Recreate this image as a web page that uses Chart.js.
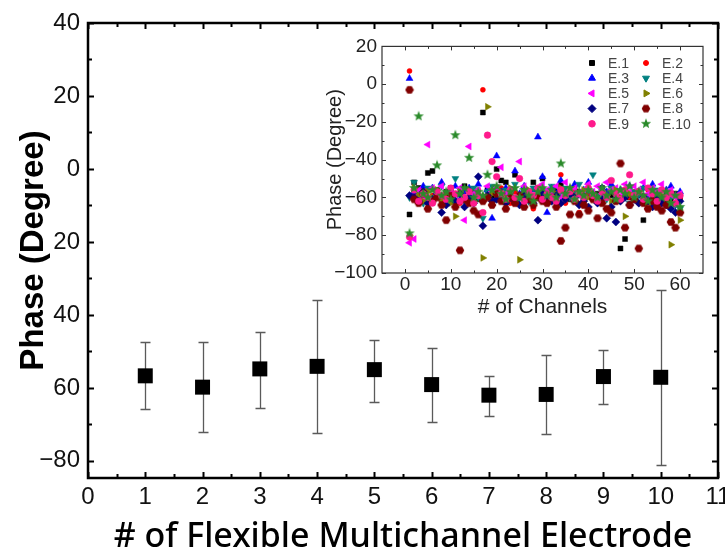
<!DOCTYPE html>
<html><head><meta charset="utf-8">
<script src="https://cdn.jsdelivr.net/npm/chart.js@4.4.1/dist/chart.umd.min.js"></script>
<style>
html,body{margin:0;padding:0;background:#fff;overflow:hidden;width:725px;height:550px;}
#wrap{position:relative;width:725px;height:550px;overflow:hidden;background:#fff;}
#main{position:absolute;left:0;top:0;width:745px;height:550px;}
#inset{position:absolute;left:315px;top:30px;width:400px;height:295px;}
</style></head><body>
<div id="wrap"><canvas id="main" width="745" height="550"></canvas><canvas id="inset" width="400" height="295"></canvas></div>
<script>
// ---------- main chart data ----------
const electrodes = [1,2,3,4,5,6,7,8,9,10];
const phaseMean  = [-56.7,-59.8,-54.8,-54.1,-55.0,-59.1,-62.0,-61.8,-56.9,-57.1];
const phaseUpper = [-47.3,-47.3,-44.6,-35.8,-46.8,-49.0,-56.7,-51.0,-49.7,-33.2];
const phaseLower = [-65.9,-72.0,-65.6,-72.5,-63.8,-69.4,-67.6,-72.7,-64.3,-81.2];
const xTicks = [0,1,2,3,4,5,6,7,8,9,10,11];
const xMinorTicks = [0.5,1.5,2.5,3.5,4.5,5.5,6.5,7.5,8.5,9.5,10.5];
const yTickValues = [-80,-60,-40,-20,0,20,40];
const yTickLabels = ['\u221280','60','40','20','0','20','40'];
const yMinorTicks = [-70,-50,-30,-10,10,30];

// ---------- inset data ----------
const channels = [1,2,3,4,5,6,7,8,9,10,11,12,13,14,15,16,17,18,19,20,21,22,23,24,25,26,27,28,29,30,31,32,33,34,35,36,37,38,39,40,41,42,43,44,45,46,47,48,49,50,51,52,53,54,55,56,57,58,59,60];
const seriesNames = ['E.1','E.2','E.3','E.4','E.5','E.6','E.7','E.8','E.9','E.10'];
const E1 = [-69,-52,-55,-58,-47,-46,-56,-60,-57,-55,-62,-58,-54,-60,-57,-61,-15,-56,-59,-45,-51,-52,-57,-48,-60,-56,-58,-52,-55,-50,-57,-60,-56,-53,-58,-61,-55,-57,-59,-56,-60,-58,-55,-57,-59,-62,-87,-82,-60,-58,-57,-72,-60,-56,-59,-61,-58,-62,-58,-60];
const E2 = [7,-58,-61,-56,-63,-59,-57,-62,-60,-55,-58,-63,-57,-61,-59,-56,-3,-60,-62,-58,-55,-60,-63,-57,-59,-61,-58,-66,-56,-60,-62,-57,-59,-48,-63,-60,-56,-68,-61,-58,-60,-63,-57,-59,-55,-61,-62,-58,-60,-57,-63,-59,-56,-61,-58,-60,-62,-57,-64,-61];
const E3 = [3,-57,-60,-54,-62,-55,-58,-52,-59,-56,-54,-61,-57,-55,-59,-53,-60,-56,-71,-38,-57,-55,-60,-46,-58,-54,-61,-56,-28,-49,-68,-55,-58,-51,-60,-57,-53,-59,-56,-52,-58,-61,-55,-57,-53,-60,-56,-58,-54,-59,-57,-55,-60,-53,-58,-62,-56,-54,-59,-57];
const E4 = [-60,-52,-58,-63,-55,-60,-57,-54,-61,-59,-50,-56,-62,-58,-55,-60,-71,-57,-54,-59,-61,-56,-58,-53,-60,-57,-62,-55,-59,-56,-58,-54,-61,-57,-55,-60,-58,-53,-62,-56,-48,-59,-57,-61,-55,-58,-60,-56,-63,-57,-59,-55,-61,-58,-56,-62,-57,-60,-64,-66];
const E5 = [-84,-82,-56,-60,-32,-55,-58,-54,-61,-57,-59,-55,-72,-33,-58,-56,-60,-54,-57,-55,-44,-58,-56,-60,-41,-54,-57,-59,-55,-53,-56,-58,-54,-60,-52,-57,-55,-59,-56,-53,-57,-54,-58,-52,-56,-55,-59,-53,-57,-54,-56,-52,-58,-55,-57,-53,-59,-56,-60,-58];
const E6 = [-80,-55,-59,-62,-57,-60,-56,-61,-58,-63,-70,-57,-60,-56,-62,-59,-92,-12,-58,-61,-57,-60,-55,-62,-93,-58,-56,-61,-59,-57,-60,-62,-58,-55,-61,-57,-59,-63,-56,-60,-58,-61,-57,-59,-62,-56,-60,-70,-58,-61,-57,-60,-63,-58,-61,-59,-62,-85,-76,-72];
const E7 = [-59,-60,-62,-57,-63,-61,-58,-68,-64,-60,-62,-58,-65,-60,-63,-49,-75,-59,-62,-61,-58,-63,-60,-62,-64,-59,-61,-63,-72,-58,-60,-62,-59,-63,-61,-58,-60,-64,-62,-65,-59,-63,-61,-71,-65,-73,-62,-60,-64,-61,-63,-60,-62,-65,-61,-63,-64,-66,-68,-62];
const E8 = [-3,-61,-63,-58,-66,-62,-60,-64,-72,-59,-65,-88,-61,-63,-67,-69,-62,-60,-64,-58,-62,-66,-60,-63,-59,-65,-61,-64,-60,-62,-63,-60,-65,-83,-76,-69,-62,-69,-64,-67,-61,-71,-63,-66,-68,-62,-42,-76,-64,-61,-87,-63,-66,-62,-65,-67,-64,-73,-76,-68];
const E9 = [-81,-56,-62,-58,-60,-63,-57,-59,-61,-55,-58,-62,-60,-57,-63,-59,-68,-27,-41,-49,-58,-61,-56,-60,-50,-62,-57,-59,-55,-61,-58,-60,-62,-56,-59,-57,-61,-58,-60,-55,-59,-62,-57,-60,-51,-58,-61,-56,-48,-59,-57,-61,-55,-58,-62,-56,-60,-58,-63,-59];
const E10 = [-79,-55,-17,-58,-60,-56,-43,-59,-57,-61,-27,-58,-55,-39,-60,-57,-59,-48,-56,-54,-58,-61,-57,-55,-60,-56,-59,-62,-57,-55,-59,-56,-60,-42,-58,-55,-61,-57,-59,-56,-58,-60,-55,-59,-57,-61,-56,-58,-54,-60,-57,-59,-62,-56,-58,-60,-57,-63,-59,-65];
const seriesValues = [E1,E2,E3,E4,E5,E6,E7,E8,E9,E10];
const insetXTicks = [0,10,20,30,40,50,60];
const insetXMinor = [5,15,25,35,45,55];
const insetYTicks = [-100,-80,-60,-40,-20,0,20];
const insetYMinor = [-90,-70,-50,-30,-10,10];

// ---------- styles ----------
const FONT = "'Liberation Sans', Arial, sans-serif";
function shapeCanvas(color, size, pts) {
  const c = document.createElement('canvas'); c.width = size; c.height = size;
  const g = c.getContext('2d'); g.fillStyle = color; g.beginPath();
  pts.forEach((p,i)=>{ const x = size/2 + p[0], y = size/2 + p[1]; if(i) g.lineTo(x,y); else g.moveTo(x,y); });
  g.closePath(); g.fill(); return c;
}
function polyPts(n, r, rot) { const a=[]; for(let i=0;i<n;i++){const t=rot+i*2*Math.PI/n; a.push([r*Math.cos(t), r*Math.sin(t)]);} return a; }
function starPts(ro, ri) { const a=[]; for(let i=0;i<10;i++){const t=-Math.PI/2+i*Math.PI/5; const r=i%2?ri:ro; a.push([r*Math.cos(t), r*Math.sin(t)]);} return a; }
const hexImg = shapeCanvas('#800000', 10, polyPts(6, 4.3, 0));
const starImg = shapeCanvas('#2a8a2a', 12, starPts(5.4, 2.3));
const seriesStyle = [
  {color:'#000000', pointStyle:'rect', radius:3.5, rotation:0},
  {color:'#ff0000', pointStyle:'circle', radius:2.5, rotation:0},
  {color:'#0000ff', pointStyle:'triangle', radius:4, rotation:0},
  {color:'#008080', pointStyle:'triangle', radius:4, rotation:180},
  {color:'#ff00ff', pointStyle:'triangle', radius:4, rotation:-90},
  {color:'#808000', pointStyle:'triangle', radius:4, rotation:90},
  {color:'#000080', pointStyle:'rectRot', radius:4, rotation:0},
  {color:'#800000', pointStyle:hexImg, radius:4, rotation:0},
  {color:'#ff1a8c', pointStyle:'circle', radius:3.3, rotation:0},
  {color:'#2a8a2a', pointStyle:starImg, radius:4, rotation:0}
];

// ---------- plugins ----------
function inwardTicks(id, spec) {
  return { id, afterDraw(chart) {
    const {ctx, chartArea:a, scales} = chart;
    ctx.save(); ctx.strokeStyle = spec.color; ctx.lineWidth = spec.tickWidth; ctx.beginPath();
    const xs = [[spec.xMajor, spec.majLen],[spec.xMinor, spec.minLen]];
    xs.forEach(([vals,len])=>vals.forEach(v=>{ const px = Math.round(scales.x.getPixelForValue(v))+0.5;
      ctx.moveTo(px,a.bottom); ctx.lineTo(px,a.bottom-len); ctx.moveTo(px,a.top); ctx.lineTo(px,a.top+len); }));
    const ys = [[spec.yMajor, spec.majLen],[spec.yMinor, spec.minLen]];
    ys.forEach(([vals,len])=>vals.forEach(v=>{ const py = Math.round(scales.y.getPixelForValue(v))+0.5;
      ctx.moveTo(a.left,py); ctx.lineTo(a.left+len,py); ctx.moveTo(a.right,py); ctx.lineTo(a.right-len,py); }));
    ctx.stroke();
    ctx.lineWidth = spec.boxWidth;
    ctx.strokeRect(a.left, a.top, a.right-a.left, a.bottom-a.top);
    ctx.restore();
  }};
}
const errorBars = { id:'errorBars', beforeDatasetsDraw(chart) {
  const {ctx, scales:{x,y}} = chart;
  ctx.save(); ctx.strokeStyle = '#5a5a5a'; ctx.lineWidth = 1.3; ctx.beginPath();
  electrodes.forEach((e,i)=>{
    const px = Math.round(x.getPixelForValue(e))+0.5;
    const yt = Math.round(y.getPixelForValue(phaseUpper[i]))+0.5, yb = Math.round(y.getPixelForValue(phaseLower[i]))+0.5;
    ctx.moveTo(px,yt); ctx.lineTo(px,yb);
    ctx.moveTo(px-5,yt); ctx.lineTo(px+5,yt);
    ctx.moveTo(px-5,yb); ctx.lineTo(px+5,yb);
  });
  ctx.stroke(); ctx.restore();
}};

// ---------- main chart ----------
new Chart(document.getElementById('main'), {
  type:'scatter',
  data:{ datasets:[{ data: electrodes.map((e,i)=>({x:e, y:phaseMean[i]})), pointStyle:'rect', pointRadius:10.6, pointHoverRadius:10.6,
    backgroundColor:'#000', borderColor:'#000', borderWidth:0 }] },
  options:{
    responsive:false, animation:false, devicePixelRatio:1,
    layout:{ padding:{ top:23, right:27, left:0, bottom:0 } },
    plugins:{ legend:{display:false}, tooltip:{enabled:false} },
    scales:{
      x:{ type:'linear', min:0, max:11,
        afterBuildTicks: s => { s.ticks = xTicks.map(v=>({value:v})); },
        afterFit: s => { s.height = 72; },
        ticks:{ font:{family:FONT, size:24}, color:'#111', padding:5, maxRotation:0, autoSkip:false },
        grid:{ display:false, drawTicks:false }, border:{display:false},
        title:{ display:true, text:'# of Flexible Multichannel Electrode', color:'#000',
          font:{family:"'Noto Sans', sans-serif", size:34, weight:'500', lineHeight:0.77}, padding:{top:0,bottom:0} } },
      y:{ type:'linear', min:-84.7, max:40,
        afterBuildTicks: s => { s.ticks = yTickValues.map(v=>({value:v})); },
        afterFit: s => { s.width = 88; },
        ticks:{ font:{family:FONT, size:24}, color:'#111', padding:8,
          callback: v => yTickLabels[yTickValues.indexOf(v)] },
        grid:{ display:false, drawTicks:false }, border:{display:false},
        title:{ display:true, text:'Phase (Degree)', color:'#000',
          font:{family:FONT, size:33, weight:'bold', lineHeight:1.2}, padding:{top:14,bottom:0} } }
    }
  },
  plugins:[errorBars, inwardTicks('mainTicks', {color:'#000', tickWidth:2, boxWidth:2.5, majLen:6, minLen:4,
    xMajor:xTicks, xMinor:xMinorTicks, yMajor:yTickValues, yMinor:yMinorTicks})]
});

// ---------- inset chart ----------
const insetLegend = { id:'insetLegend', afterDraw(chart) {
  const ctx = chart.ctx; ctx.save();
  ctx.font = "14px " + FONT; ctx.textBaseline = 'middle'; ctx.textAlign = 'left';
  chart.data.datasets.forEach((ds,i)=>{
    const col = i%2, row = Math.floor(i/2);
    const mx = 277 + col*54, my = 33 + row*15.2;
    const st = seriesStyle[i];
    ctx.fillStyle = st.color; ctx.strokeStyle = st.color;
    Chart.helpers.drawPoint(ctx, {pointStyle:st.pointStyle, radius:st.radius, rotation:st.rotation, borderWidth:0.5}, mx, my);
    ctx.fillStyle = '#444';
    ctx.fillText(ds.label, mx+16, my+1);
  });
  ctx.restore();
}};

new Chart(document.getElementById('inset'), {
  type:'scatter',
  data:{ datasets: seriesValues.map((vals,i)=>({
    label: seriesNames[i],
    data: channels.map((c,j)=>({x:c, y:vals[j]})),
    pointStyle: seriesStyle[i].pointStyle, pointRadius: seriesStyle[i].radius, pointHoverRadius: seriesStyle[i].radius,
    rotation: seriesStyle[i].rotation,
    backgroundColor: seriesStyle[i].color, borderColor: seriesStyle[i].color, borderWidth:0.5,
    order: 10 - i
  })) },
  options:{
    responsive:false, animation:false, devicePixelRatio:1,
    layout:{ padding:{ top:13, right:12, left:0, bottom:0 } },
    plugins:{ legend:{display:false}, tooltip:{enabled:false} },
    scales:{
      x:{ type:'linear', min:-5, max:65,
        afterBuildTicks: s => { s.ticks = insetXTicks.map(v=>({value:v})); },
        afterFit: s => { s.height = 52; },
        ticks:{ font:{family:FONT, size:19}, color:'#222', padding:0, maxRotation:0, autoSkip:false },
        grid:{ display:false, drawTicks:false }, border:{display:false},
        title:{ display:true, text:'# of Channels', color:'#222',
          font:{family:FONT, size:21, lineHeight:1.2}, padding:{top:0,bottom:5} } },
      y:{ type:'linear', min:-100, max:20,
        afterBuildTicks: s => { s.ticks = insetYTicks.map(v=>({value:v})); },
        afterFit: s => { s.width = 67; },
        ticks:{ font:{family:FONT, size:19}, color:'#222', padding:5,
          callback: v => (v < 0 ? '\u2212' + Math.abs(v) : String(v)) },
        grid:{ display:false, drawTicks:false }, border:{display:false},
        title:{ display:true, text:'Phase (Degree)', color:'#222',
          font:{family:FONT, size:20, lineHeight:1.2}, padding:{top:8,bottom:0} } }
    }
  },
  plugins:[{ id:'whiteBg', beforeDraw(chart){ const {ctx, chartArea:a} = chart; ctx.save(); ctx.fillStyle='#fff'; ctx.fillRect(a.left,a.top,a.right-a.left,a.bottom-a.top); ctx.restore(); } },
    inwardTicks('insetTicks', {color:'#333', tickWidth:1, boxWidth:1.2, majLen:4, minLen:2.5,
      xMajor:insetXTicks, xMinor:insetXMinor, yMajor:insetYTicks, yMinor:insetYMinor}), insetLegend]
});
</script>
</body></html>
